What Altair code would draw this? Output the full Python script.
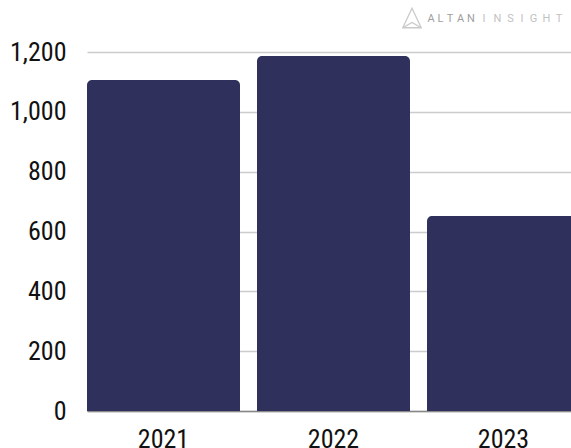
import altair as alt
import pandas as pd

years = ["2021", "2022", "2023"]
values = [1106, 1187, 652]
y_ticks = [0, 200, 400, 600, 800, 1000, 1200]

brand_letters = list("ALTANINSIGHT")
brand_colors = ["#a0a0a0"] * 5 + ["#c2c2c2"] * 7

FONT = "'Liberation Sans Narrow', 'Roboto Condensed', Roboto"

df = pd.DataFrame({"year": years, "value": values})

bars = alt.Chart(df).mark_bar(
    color="#2f315c", cornerRadiusTopLeft=5, cornerRadiusTopRight=5
).encode(
    x=alt.X("year:N", sort=years, title=None,
            scale=alt.Scale(range=[0, 493], paddingInner=0.1, paddingOuter=0),
            axis=alt.Axis(labelAngle=0, labelFontSize=26, labelFont=FONT,
                          labelColor="#111111", labelPadding=15, ticks=False,
                          grid=False, domainColor="#888888", domainWidth=1.5)),
    y=alt.Y("value:Q", title=None,
            scale=alt.Scale(domain=[0, 1200], nice=False),
            axis=alt.Axis(values=y_ticks, format=",d", labelFontSize=26,
                          labelFont=FONT, labelColor="#111111",
                          labelPadding=21, ticks=False, domain=False, grid=True,
                          gridColor="#cccccc", gridWidth=1.5)),
)

# watermark letter centres, measured in pixels from the plot's left edge
centers = [344, 353.5, 363, 373.5, 384, 397, 410.5, 423.5, 435, 446.5, 459.5, 472]

layers = [bars]
for ch, col, cx in zip(brand_letters, brand_colors, centers):
    layers.append(
        alt.Chart(df.head(1)).mark_text(
            font="Roboto", fontSize=11, fontWeight=400, align="center",
            baseline="middle", color=col, text=ch,
        ).encode(x=alt.value(cx), y=alt.value(-33))
    )

logo = alt.Chart(df.head(1)).mark_point(
    shape="M0,-1L0.95,1L-0.95,1Z M-0.95,1L0,0.45L0.95,1",
    filled=False, stroke="#b5b5b5", strokeWidth=1.3, size=380,
).encode(
    x=alt.value(325),
    y=alt.value(-34),
)
layers.append(logo)

chart = alt.layer(*layers).properties(
    width=484, height=359,
    autosize=alt.AutoSizeParams(type="none"),
    padding={"left": 87, "top": 52, "right": 0, "bottom": 37},
).configure_view(stroke=None)

chart.save("out.html", embed_options={"renderer": "svg", "actions": False})
